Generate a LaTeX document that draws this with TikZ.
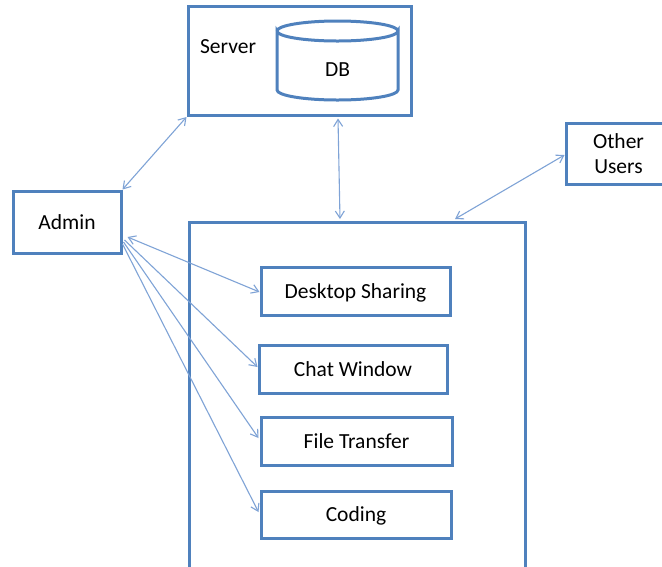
\documentclass[tikz,border=0pt]{standalone}
\usepackage{fontspec}
\setmainfont{Carlito}
\usetikzlibrary{arrows.meta,calc}
\definecolor{boxblue}{HTML}{4F81BD}
\definecolor{linkblue}{HTML}{7FA3D6}
\tikzset{
  box/.style={draw=boxblue, line width=3pt, fill=white, inner sep=0pt,
              font=\fontsize{21.5}{25}\selectfont, align=center},
  tool/.style={box, text height=14pt, text depth=0pt},
  link/.style={draw=linkblue, line width=1.1pt,
               arrows={Straight Barb[length=7pt,width=9pt,line width=1.1pt]-Straight Barb[length=7pt,width=9pt,line width=1.1pt]}},
  linkto/.style={draw=linkblue, line width=1.1pt,
               -{Straight Barb[length=7pt,width=9pt,line width=1.1pt]}},
  label/.style={font=\fontsize{21.5}{25}\selectfont, inner sep=0pt}
}
\begin{document}
\begin{tikzpicture}[x=1pt,y=-1pt]
\useasboundingbox (0,0) rectangle (662,566);

% server with its database
\node[box, minimum width=223pt, minimum height=109pt] (server) at (299.5,61) {};
\node[label] (servertext) at (228,47) {Server};
\draw[boxblue, line width=3pt, fill=white]
  (277,31) arc[start angle=180, end angle=360, x radius=60.5, y radius=-10]
  -- (398,90) arc[start angle=0, end angle=-180, x radius=60.5, y radius=-10]
  -- cycle;
\draw[boxblue, line width=3pt]
  (277,31) arc[start angle=180, end angle=0, x radius=60.5, y radius=-10];
\node[label] (db) at (337.5,70) {DB};

% users
\node[tool, minimum width=108pt, minimum height=62pt] (admin) at (67,222) {Admin};
\node[box, minimum width=105pt, minimum height=61pt] (other) at (618.5,153.5) {Other\\Users};

% client area with its tools
\node[box, minimum width=336pt, minimum height=346pt] (client) at (357,395) {};
\node[tool, minimum width=189pt, minimum height=48pt] (desk) at (355.5,291) {Desktop Sharing};
\node[tool, minimum width=188pt, minimum height=48pt] (chat) at (353,369) {Chat Window};
\node[tool, minimum width=191pt, minimum height=48pt] (file) at (356.5,441) {File Transfer};
\node[tool, minimum width=190pt, minimum height=47pt] (coding) at (356,514.5) {Coding};

% connectors
\draw[link] (admin.north east) -- (server.south west);
\draw[link] ($(server.south)+(38.5,1.5)$) -- ($(client.north)+(-17,-1.5)$);
\draw[link] ($(other.west)+(0,1.5)$) -- ($(client.north)+(98,-1.5)$);
\draw[link] ($(admin.east)+(5,15)$) -- ($(desk.west)+(0,1)$);
\draw[linkto] ($(admin.east)+(2,18)$) -- ($(chat.west)+(0,-2)$);
\draw[linkto] ($(admin.east)+(1,20)$) -- ($(file.west)+(-1,-3)$);
\draw[linkto] ($(admin.east)+(0,22)$) -- ($(coding.west)+(-1,-2.5)$);
\end{tikzpicture}
\end{document}
